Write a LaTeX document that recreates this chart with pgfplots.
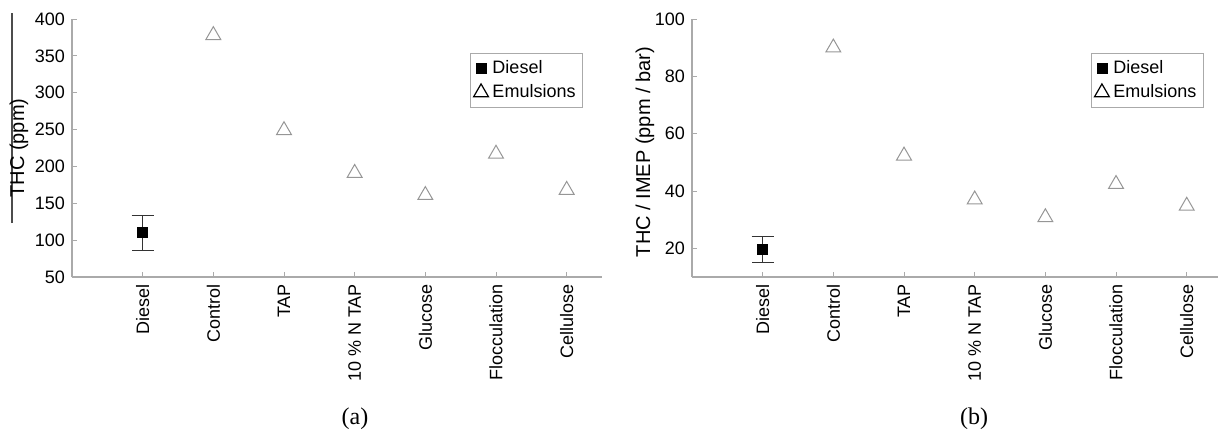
\documentclass[border=0pt]{standalone}
\usepackage{pgfplots}
\pgfplotsset{compat=1.18}
\usepackage{fontspec}
\setmainfont{Liberation Sans}
\newfontfamily\capfont{Liberation Serif}
\definecolor{axgray}{RGB}{170,170,170}
\definecolor{trigray}{RGB}{150,150,150}
\pgfplotsset{
  myax/.style={
    scale only axis,
    width=265pt, height=129pt,
    axis x line=bottom, axis y line=left,
    axis line style={-, axgray, line width=0.6pt},
    tick style={axgray, line width=0.5pt},
    tick align=inside,
    major tick length=2.5pt,
    xmin=0, xmax=7.5,
    xtick={1,...,7},
    xticklabels={Diesel,Control,TAP,10 \% N TAP,Glucose,Flocculation,Cellulose},
    x tick label style={rotate=90, anchor=east},
    tick label style={font=\fontsize{9}{10}\selectfont, black},
    label style={font=\fontsize{9}{10}\selectfont},
    /pgf/number format/assume math mode=true,
    legend cell align=left,
    legend style={draw=axgray, font=\fontsize{9}{11}\selectfont, inner sep=1.5pt, row sep=0pt},
  },
  dies/.style={only marks, mark=square*, mark size=2.5pt, draw=black, fill=black,
    mark options={draw=black, fill=black},
    error bars/.cd, y dir=both, y explicit,
    error bar style={black!80, line width=0.5pt},
    error mark options={rotate=90, mark size=5.5pt, black!80, line width=0.5pt}},
  emul/.style={only marks, mark=triangle, mark size=4.3pt, draw=trigray,
    mark options={draw=trigray, line width=0.5pt},
    legend image post style={mark options={draw=black, line width=0.6pt}}},
}
\begin{document}
\begin{tikzpicture}
\useasboundingbox (0,0) rectangle (609pt,217pt);
\draw[black!70, line width=0.6pt] (6pt,105.5pt) -- (6pt,210.5pt);
\begin{axis}[myax,
  at={(36pt,78.5pt)}, anchor=south west,
  ymin=50, ymax=400, ytick={50,100,...,400},
  ylabel={THC (ppm)},
  every axis y label/.style={at={(axis description cs:-0.1,0.5)}, rotate=90, anchor=center},
  legend style={at={(0.964,0.868)}, anchor=north east},
]
\addplot[dies] coordinates {(1,110) +- (0,24)};
\addlegendentry{Diesel}
\addplot[emul] coordinates {(2,378) (3,249) (4,191) (5,161) (6,217) (7,168)};
\addlegendentry{Emulsions}
\end{axis}
\begin{axis}[myax,
  at={(346pt,78.5pt)}, anchor=south west,
  width=263pt, xmax=7.443,
  ymin=10, ymax=100, ytick={20,40,...,100},
  ylabel={THC / IMEP (ppm / bar)},
  every axis y label/.style={at={(axis description cs:-0.0894,0.4845)}, rotate=90, anchor=center},
  legend style={at={(0.973,0.868)}, anchor=north east},
]
\addplot[dies] coordinates {(1,19.7) +- (0,4.6)};
\addlegendentry{Diesel}
\addplot[emul] coordinates {(2,90) (3,52.3) (4,37) (5,30.8) (6,42.4) (7,34.8)};
\addlegendentry{Emulsions}
\end{axis}
\node[font=\capfont\fontsize{12}{13}\selectfont] at (177.5pt,7.5pt) {(a)};
\node[font=\capfont\fontsize{12}{13}\selectfont] at (487pt,7.5pt) {(b)};
\end{tikzpicture}
\end{document}
